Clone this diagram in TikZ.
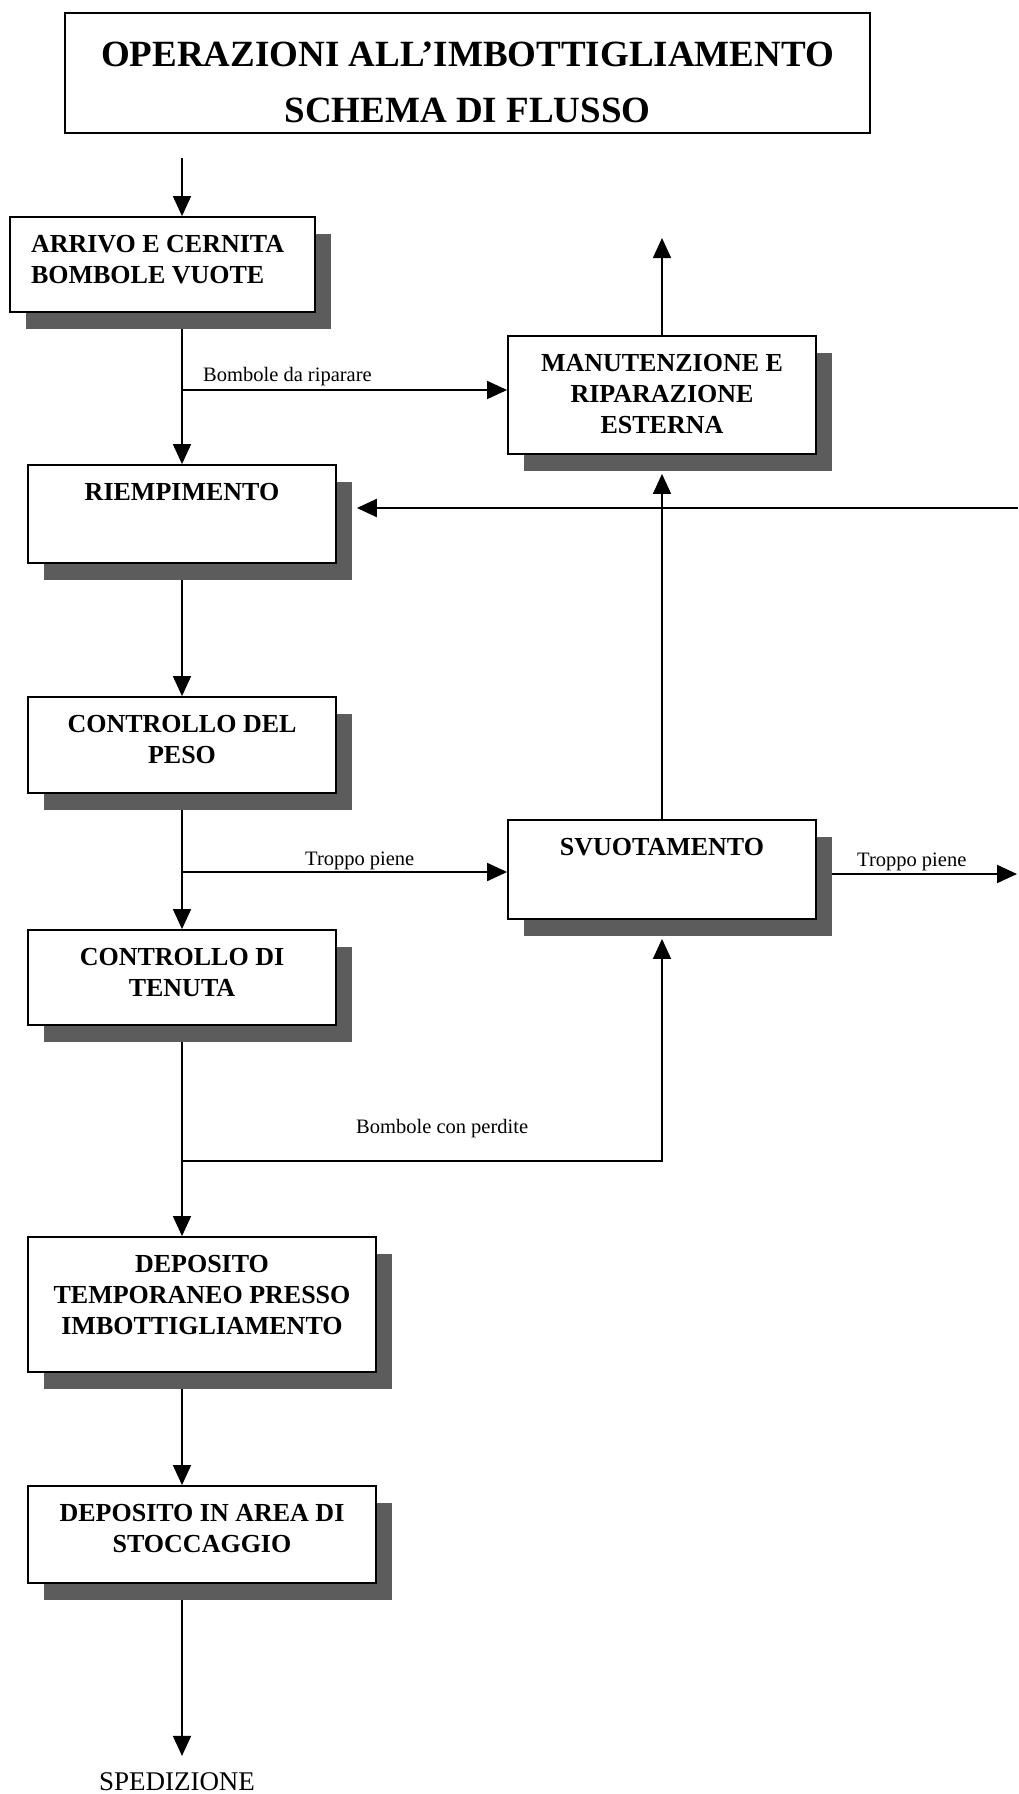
\documentclass[tikz,border=0pt]{standalone}
\usepackage{fontspec}
\setmainfont{Liberation Serif}
\usetikzlibrary{arrows.meta,shadows,backgrounds,calc}

% box contents: fixed-size parbox, text set from the top
\newcommand\stagetext[3]{\parbox[c][#2][t]{#1}{\vspace*{18pt}\centering\bfseries\fontsize{26}{31}\selectfont #3}}

\begin{document}
\begin{tikzpicture}[x=1pt,y=-1pt,
  titlebox/.style={draw, line width=1.8pt, fill=white, inner sep=0pt},
  stagenode/.style={draw, line width=1.8pt, fill=white, inner sep=0pt,
    general shadow={fill=black!64, shadow xshift=16pt, shadow yshift=-17pt}},
  conn/.style={line width=1.6pt},
  arr/.style={conn, -{Triangle[length=20pt,width=18pt]}},
  lbl/.style={font=\fontsize{20.5}{24}\selectfont, inner sep=0pt, anchor=base west}]

\useasboundingbox (0,0) rectangle (1018,1794);

% title
\node[titlebox] (title) at (467.5,73)
  {\parbox[c][120pt][t]{805pt}{\vspace*{29pt}\centering\bfseries\fontsize{37}{56}\selectfont
   OPERAZIONI ALL’IMBOTTIGLIAMENTO\\SCHEMA DI FLUSSO}};

% process steps
\node[stagenode] (arrivo) at (162.5,264.5)
  {\parbox[c][95pt][t]{305pt}{\vspace*{18pt}\raggedright\leftskip=21pt\bfseries\fontsize{26}{31}\selectfont
   ARRIVO E CERNITA\\BOMBOLE VUOTE}};
\node[stagenode] (manut)  at (662,395)    {\stagetext{308pt}{118pt}{MANUTENZIONE E\\RIPARAZIONE\\ESTERNA}};
\node[stagenode] (riemp)  at (182,514)    {\stagetext{308pt}{98pt}{RIEMPIMENTO}};
\node[stagenode] (peso)   at (182,745)    {\stagetext{308pt}{96pt}{CONTROLLO DEL\\PESO}};
\node[stagenode] (svuot)  at (662,869.5)  {\stagetext{308pt}{99pt}{SVUOTAMENTO}};
\node[stagenode] (tenuta) at (182,977.5)  {\stagetext{308pt}{95pt}{CONTROLLO DI\\TENUTA}};
\node[stagenode] (deptemp) at (202,1304.5){\stagetext{348pt}{135pt}{DEPOSITO\\TEMPORANEO PRESSO\\IMBOTTIGLIAMENTO}};
\node[stagenode] (depstocc) at (202,1534.5){\stagetext{348pt}{97pt}{DEPOSITO IN AREA DI\\STOCCAGGIO}};

\node[anchor=base, inner sep=0pt, font=\fontsize{27}{32}\selectfont] (sped) at (177,1790) {SPEDIZIONE};

% connector labels
\node[lbl] (lrip) at (203,381)  {Bombole da riparare};
\node[lbl] (ltp1) at (305,865)  {Troppo piene};
\node[lbl] (ltp2) at (857,866)  {Troppo piene};
\node[lbl] (lper) at (356,1133) {Bombole con perdite};

% connectors, kept behind the boxes and their shadows
\begin{scope}[on background layer]
  \fill[white] (0,0) rectangle (1018,1794);

  \coordinate (in)  at (182,158);
  \coordinate (j1)  at (182,390);
  \coordinate (up)  at (662,238);
  \coordinate (ret) at (1018,508);
  \coordinate (j2)  at (182,872);
  \coordinate (out2) at (1017,874);
  \coordinate (j3)  at (182,1161);

  \draw[arr] (in) -- (in |- arrivo.north);
  \draw[arr] (arrivo.south -| riemp.north) -- (riemp.north);
  \draw[arr] (j1) -- (j1 -| manut.west);
  \draw[arr] (manut.north) -- (up);
  \draw[arr, line width=2.2pt] (ret) -- ([xshift=20pt]ret -| riemp.east);
  \draw[arr] (riemp.south) -- (peso.north);
  \draw[arr] (svuot.north) -- ($(manut.south)+(0,19)$);
  \draw[arr] (peso.south) -- (tenuta.north);
  \draw[arr, line width=2pt] (j2) -- (j2 -| svuot.west);
  \draw[arr, line width=2pt] (svuot.east |- out2) -- (out2);
  \draw[arr] (tenuta.south) -- (tenuta.south |- deptemp.north);
  \draw[arr] (j3) -| ($(svuot.south)+(0,19)$);
  \draw[arr] (deptemp.south -| riemp.south) -- (depstocc.north -| riemp.south);
  \draw[arr] (depstocc.south -| riemp.south) -- ([yshift=16pt]sped.north -| riemp.south);
\end{scope}
\end{tikzpicture}
\end{document}
